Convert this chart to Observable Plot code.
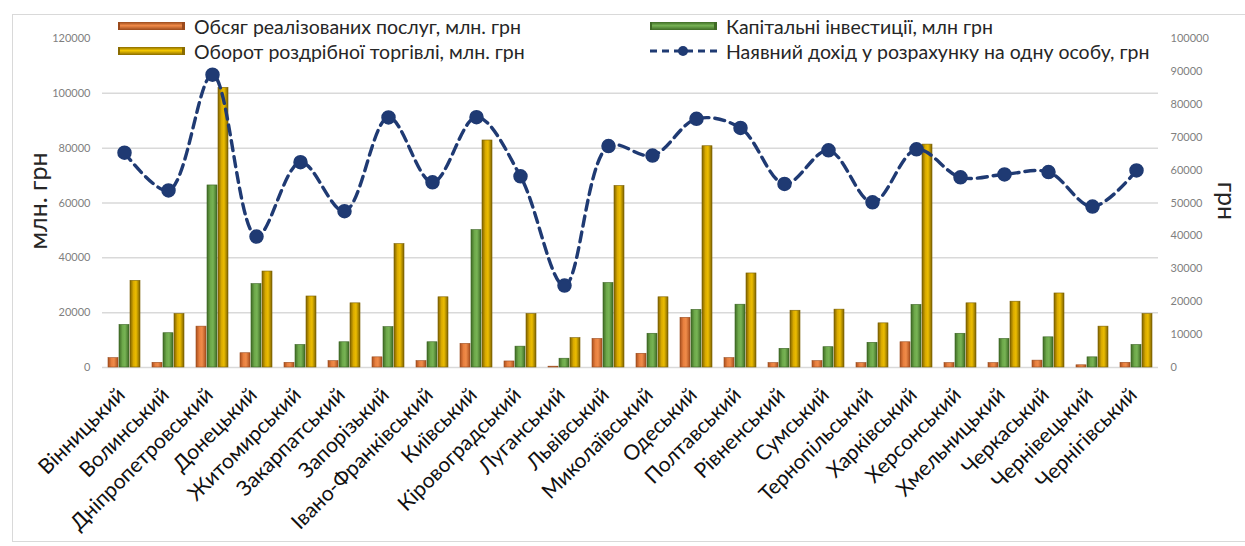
<!DOCTYPE html>
<html>
<head>
<meta charset="utf-8">
<script src="https://cdn.jsdelivr.net/npm/d3@7"></script>
<script src="https://cdn.jsdelivr.net/npm/@observablehq/plot@0.6"></script>
<style>
  html, body { margin: 0; padding: 0; background: #fff; }
  #wrap { position: relative; width: 1245px; height: 546px; overflow: hidden; font-family: Lato, "Noto Sans", sans-serif; }
  #frame { position: absolute; left: 12px; top: 14px; width: 1250px; height: 528px; border: 1.5px solid #d9d9d9; box-sizing: border-box; pointer-events: none; }
  .leg { position: absolute; display: flex; align-items: center; font-size: 19.5px; color: #262626; white-space: nowrap; }
  .sw { width: 67px; height: 8px; margin-right: 9px; box-sizing: border-box; }
  .ytitle { position: absolute; font-size: 25px; color: #262626; white-space: nowrap; transform-origin: center center; line-height: 26px; }
</style>
</head>
<body>
<div id="wrap">
  <div id="chart"></div>
  <div id="frame"></div>
</div>
<script>
const regions = ["Вінницький","Волинський","Дніпропетровський","Донецький","Житомирський","Закарпатський","Запорізький","Івано-Франківський","Київський","Кіровоградський","Луганський","Львівський","Миколаївський","Одеський","Полтавський","Рівненський","Сумський","Тернопільський","Харківський","Херсонський","Хмельницький","Черкаський","Чернівецький","Чернігівський"];
const services = [3400,1700,14900,5200,1700,2300,3700,2300,8600,2200,300,10400,5000,18100,3400,1600,2300,1600,9200,1600,1600,2500,800,1700];
const investments = [15500,12500,66400,30400,8200,9200,14700,9200,50100,7600,3200,30800,12300,21000,22900,6800,7400,9000,22800,12300,10400,11000,3700,8200];
const retail = [31600,19500,102000,35000,25900,23400,45000,25600,82800,19500,10700,66200,25600,80700,34300,20700,21100,16100,81300,23400,24000,27000,14900,19500];
const income = [65300,53800,89000,39800,62400,47500,76000,56300,76100,58100,24900,67300,64400,75600,72800,55800,66000,50200,66300,57800,58700,59400,48900,59900];
const leftTicks = [0,20000,40000,60000,80000,100000,120000];
const rightTicks = [0,10000,20000,30000,40000,50000,60000,70000,80000,90000,100000];
const seriesNames = ["Обсяг реалізованих послуг, млн. грн","Капітальні інвестиції, млн грн","Оборот роздрібної торгівлі, млн. грн","Наявний дохід у розрахунку на одну особу, грн"];

const ratio = 120000 / 100000; // right axis → left axis
const barData = [];
regions.forEach((r, i) => {
  barData.push({region: r, s: 0, v: services[i]});
  barData.push({region: r, s: 1, v: investments[i]});
  barData.push({region: r, s: 2, v: retail[i]});
});
const lineData = regions.map((r, i) => ({region: r, v: income[i] * ratio}));
const grads = ["url(#gO)", "url(#gG)", "url(#gY)"];
const strokes = ["#9a4a1c", "#3a6322", "#7a5f00"];
const offs = [-11, 0, 11];

const plot = Plot.plot({
  width: 1245,
  height: 546,
  marginTop: 38,
  marginBottom: 179,
  marginLeft: 102,
  marginRight: 87,
  style: {fontFamily: "Lato, 'Noto Sans', sans-serif", background: "transparent"},
  x: {domain: regions, padding: 0, label: null},
  y: {domain: [0, 120000], label: null},
  marks: [
    Plot.ruleY(leftTicks.filter(t => t < 120000), {stroke: "#d9d9d9", strokeWidth: 1.5}),
    ...[0, 1, 2].map(s => Plot.barY(barData.filter(d => d.s === s), {
      x: "region", y: "v", fill: grads[s], stroke: strokes[s], strokeWidth: 0.6,
      insetLeft: 17, insetRight: 17, dx: offs[s]
    })),
    Plot.line(lineData, {x: "region", y: "v", curve: "catmull-rom", stroke: "#1f3a73", strokeWidth: 3.4, strokeDasharray: "10,6"}),
    Plot.dot(lineData, {x: "region", y: "v", r: 6.5, fill: "#1f3a73", stroke: "#1f3a73"}),
    Plot.axisY({ticks: leftTicks, tickSize: 0, tickPadding: 12, fontSize: 11, fill: "#7f7f7f", label: null, tickFormat: d => String(d)}),
    Plot.axisY({anchor: "right", ticks: rightTicks.map(t => t * ratio), tickSize: 0, tickPadding: 12, fontSize: 11, fill: "#7f7f7f", label: null, tickFormat: d => String(Math.round(d / ratio))}),
    Plot.axisX({tickRotate: -45, tickSize: 0, tickPadding: 24, dx: -3, fontSize: 21, fill: "#111", label: null})
  ]
});

// gradient defs for Excel-like shaded bars
const ns = "http://www.w3.org/2000/svg";
const defs = document.createElementNS(ns, "defs");
const gdefs = [
  ["gO", ["#a9501f", "#e8803f", "#f08c4a", "#a9501f"]],
  ["gG", ["#3f6b25", "#6da84a", "#78b455", "#3f6b25"]],
  ["gY", ["#7d6200", "#d9aa00", "#ecbd00", "#7d6200"]]
];
gdefs.forEach(([id, cs]) => {
  const g = document.createElementNS(ns, "linearGradient");
  g.setAttribute("id", id);
  g.setAttribute("x1", "0"); g.setAttribute("x2", "1"); g.setAttribute("y1", "0"); g.setAttribute("y2", "0");
  [0, 0.35, 0.6, 1].forEach((o, k) => {
    const st = document.createElementNS(ns, "stop");
    st.setAttribute("offset", o);
    st.setAttribute("stop-color", cs[k]);
    g.appendChild(st);
  });
  defs.appendChild(g);
});
plot.insertBefore(defs, plot.firstChild);
document.getElementById("chart").appendChild(plot);

// legend (overlaid at the top of the plot area, as in the reference)
const wrap = document.getElementById("wrap");
function addLeg(x, y, swHtml, text) {
  const d = document.createElement("div");
  d.className = "leg";
  d.style.left = x + "px";
  d.style.top = (y - 12) + "px";
  d.style.height = "24px";
  d.innerHTML = swHtml + "<span>" + text + "</span>";
  wrap.appendChild(d);
}
const sw = (g1, g2) => `<div class="sw" style="background: linear-gradient(to bottom, ${g1}, ${g2} 45%, ${g1}); border-right: 3px solid ${g1}; border-left: 2px solid ${g1};"></div>`;
addLeg(118, 26, sw("#9a4a1c", "#f08a48"), seriesNames[0]);
addLeg(118, 51, sw("#8a6c00", "#f5c800"), seriesNames[2]);
addLeg(650, 26, sw("#3f6b25", "#76b254"), seriesNames[1]);
addLeg(650, 51, `<svg width="67" height="14" style="margin-right:9px"><line x1="0" x2="67" y1="7" y2="7" stroke="#1f3a73" stroke-width="3" stroke-dasharray="7,5"/><circle cx="33" cy="7" r="5" fill="#1f3a73"/></svg>`, seriesNames[3]);

// axis titles
const t1 = document.createElement("div");
t1.className = "ytitle";
t1.textContent = "млн. грн";
t1.style.left = "-13px"; t1.style.top = "188px"; t1.style.width = "100px"; t1.style.textAlign = "center";
t1.style.transform = "rotate(-90deg)";
wrap.appendChild(t1);
const t2 = document.createElement("div");
t2.className = "ytitle";
t2.textContent = "грн";
t2.style.left = "1203px"; t2.style.top = "188px"; t2.style.width = "50px"; t2.style.textAlign = "center";
t2.style.transform = "rotate(90deg)";
wrap.appendChild(t2);
</script>
</body>
</html>
